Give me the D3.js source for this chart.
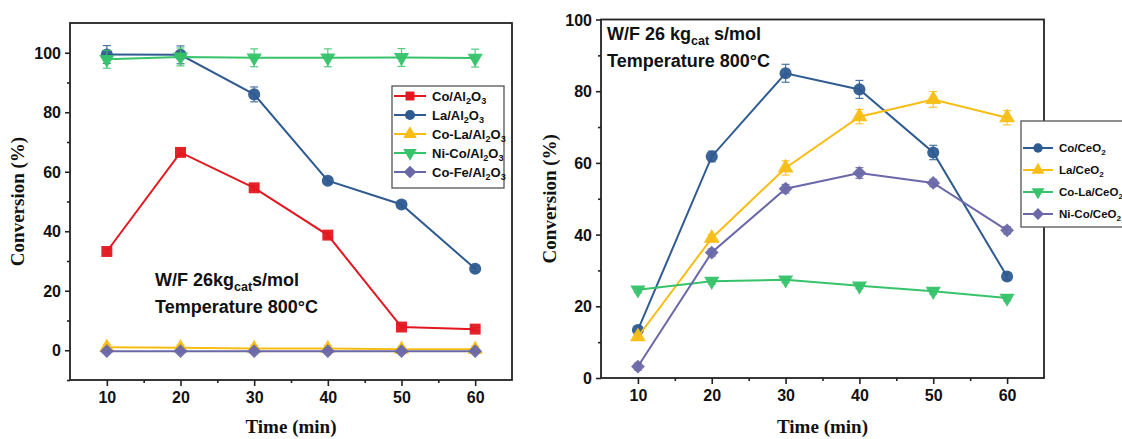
<!DOCTYPE html>
<html>
<head>
<meta charset="utf-8">
<script src="https://cdn.jsdelivr.net/npm/d3@7"></script>
<style>
  body { margin: 0; background: white; }
  svg { display: block; }
</style>
</head>
<body>
<svg id="chart" width="1122" height="439"></svg>
<script>
// time axis shared by both panels
var times = [10, 20, 30, 40, 50, 60];
var xTicks = [10, 20, 30, 40, 50, 60];
var xMinor = [15, 25, 35, 45, 55];

// left panel: Al2O3 supports
var alNames = ["Co/Al2O3", "La/Al2O3", "Co-La/Al2O3", "Ni-Co/Al2O3", "Co-Fe/Al2O3"];
var coAl   = [33.2, 66.5, 54.6, 38.7, 7.8, 7.1];
var laAl   = [99.4, 99.3, 86.0, 57.0, 49.0, 27.4];
var coLaAl = [1.0, 0.8, 0.6, 0.6, 0.3, 0.3];
var niCoAl = [97.8, 98.6, 98.3, 98.3, 98.4, 98.2];
var coFeAl = [-0.3, -0.3, -0.3, -0.3, -0.3, -0.3];
var coAlErr   = [0.8, 1.0, 0.8, 0.8, 0.6, 0.6];
var laAlErr   = [3.0, 3.0, 2.5, 1.0, 1.0, 1.0];
var coLaAlErr = [1.0, 1.0, 1.0, 1.0, 1.0, 1.0];
var niCoAlErr = [3.0, 3.0, 3.0, 3.0, 3.0, 3.0];
var coFeAlErr = [0.4, 0.4, 0.4, 0.4, 0.4, 0.4];
var alYTicks = [0, 20, 40, 60, 80, 100];
var alYMinor = [-10, 10, 30, 50, 70, 90];

// right panel: CeO2 supports
var ceNames = ["Co/CeO2", "La/CeO2", "Co-La/CeO2", "Ni-Co/CeO2"];
var coCe   = [13.4, 61.8, 85.0, 80.5, 62.9, 28.3];
var laCe   = [11.5, 39.0, 58.6, 72.9, 77.7, 72.6];
var coLaCe = [24.6, 27.0, 27.4, 25.7, 24.2, 22.3];
var niCoCe = [3.2, 35.0, 52.8, 57.2, 54.4, 41.2];
var coCeErr   = [1.0, 1.5, 2.5, 2.5, 2.0, 1.0];
var laCeErr   = [1.0, 1.0, 2.0, 2.0, 2.2, 2.0];
var coLaCeErr = [0.8, 0.8, 0.8, 0.8, 0.8, 0.8];
var niCoCeErr = [1.0, 1.0, 1.2, 1.5, 1.0, 1.0];
var ceYTicks = [0, 20, 40, 60, 80, 100];
var ceYMinor = [10, 30, 50, 70, 90];

var red = "#e3171f", blue = "#2f5b91", yellow = "#f8bd14", green = "#36c36a", purple = "#6a68a8";
var sans = "'Liberation Sans', Arial, sans-serif";
var serif = "'Liberation Serif', 'Times New Roman', serif";

var svg = d3.select("#chart");
svg.append("rect").attr("width", 1122).attr("height", 439).attr("fill", "white");

function symbolFor(kind, size) {
    if (kind == "square") return d3.symbol(d3.symbolSquare, size)();
    if (kind == "circle") return d3.symbol(d3.symbolCircle, size)();
    if (kind == "diamond") return d3.symbol(d3.symbolSquare, size)();
    return d3.symbol(d3.symbolTriangle, size)();
}
function symbolRot(kind) {
    if (kind == "down") return " rotate(180)";
    if (kind == "diamond") return " rotate(45)";
    return "";
}

// writes "Co/Al2O3" style labels with subscript digits
function chemText(sel, label, sub) {
    var parts = label.split(/(\d+)/);
    parts.forEach(function(p, i) {
        if (p === "") return;
        var isNum = /^\d+$/.test(p);
        var t = sel.append("tspan").text(p);
        if (isNum) t.attr("dy", sub.dy).style("font-size", sub.size + "px");
        else if (i > 0) t.attr("dy", -sub.dy);
    });
}

function drawPanel(p) {
    var x = d3.scaleLinear().domain([5, 65]).range([p.left, p.right]);
    var y = d3.scaleLinear().domain(p.yDomain).range([p.bottom, p.top]);
    var g = svg.append("g");

    // axes
    g.append("g").attr("transform", "translate(0," + p.bottom + ")")
        .call(d3.axisBottom(x).tickValues(xTicks).tickSize(6).tickPadding(6).tickFormat(d3.format("d")));
    g.append("g").attr("transform", "translate(0," + p.bottom + ")")
        .call(d3.axisBottom(x).tickValues(xMinor).tickSize(3).tickFormat(""));
    var ya = g.append("g").attr("transform", "translate(" + p.left + ",0)")
        .call(d3.axisLeft(y).tickValues(p.yTicks).tickSize(5).tickPadding(4).tickFormat(d3.format("d")));
    g.append("g").attr("transform", "translate(" + p.left + ",0)")
        .call(d3.axisLeft(y).tickValues(p.yMinor).tickSize(3).tickFormat(""));
    g.selectAll(".domain").remove();
    g.selectAll(".tick line").attr("stroke", "#222").attr("stroke-width", 1.6);
    g.selectAll(".tick text").attr("fill", "#111")
        .style("font-family", sans).style("font-weight", "bold").style("font-size", "16px");
    ya.selectAll(".tick text").attr("dy", "0.35em");

    g.append("rect")
        .attr("x", p.left).attr("y", p.top)
        .attr("width", p.right - p.left).attr("height", p.bottom - p.top)
        .attr("fill", "none").attr("stroke", "#222").attr("stroke-width", 1.8);

    // series
    p.series.forEach(function(s) {
        var pts = times.map(function(t, i) { return { t: t, v: s.values[i], e: s.err[i] }; });
        var sg = g.append("g");
        sg.append("path").datum(pts)
            .attr("fill", "none").attr("stroke", s.color).attr("stroke-width", 2)
            .attr("d", d3.line().x(function(d) { return x(d.t); }).y(function(d) { return y(d.v); }));
        var eb = sg.selectAll(".err").data(pts).enter().append("g")
            .attr("stroke", s.color).attr("stroke-width", 1.2).attr("opacity", 0.85);
        eb.append("line")
            .attr("x1", function(d) { return x(d.t); }).attr("x2", function(d) { return x(d.t); })
            .attr("y1", function(d) { return y(d.v - d.e); }).attr("y2", function(d) { return y(d.v + d.e); });
        eb.append("line")
            .attr("x1", function(d) { return x(d.t) - 4; }).attr("x2", function(d) { return x(d.t) + 4; })
            .attr("y1", function(d) { return y(d.v + d.e); }).attr("y2", function(d) { return y(d.v + d.e); });
        eb.append("line")
            .attr("x1", function(d) { return x(d.t) - 4; }).attr("x2", function(d) { return x(d.t) + 4; })
            .attr("y1", function(d) { return y(d.v - d.e); }).attr("y2", function(d) { return y(d.v - d.e); });
        sg.selectAll(".mk").data(pts).enter().append("path")
            .attr("d", symbolFor(s.shape, s.size))
            .attr("transform", function(d) { return "translate(" + x(d.t) + "," + y(d.v) + ")" + symbolRot(s.shape); })
            .attr("fill", s.color).attr("opacity", 0.95);
    });

    // legend
    var L = p.legend;
    g.append("rect").attr("x", L.x).attr("y", L.y).attr("width", L.w).attr("height", L.h)
        .attr("fill", "white").attr("stroke", "#555").attr("stroke-width", 1.3);
    p.series.forEach(function(s, i) {
        var ly = L.firstY + i * L.step;
        g.append("line").attr("x1", L.x + 2).attr("x2", L.x + 2 + L.lineW)
            .attr("y1", ly).attr("y2", ly).attr("stroke", s.color).attr("stroke-width", 2);
        g.append("path").attr("d", symbolFor(s.shape, L.mSize))
            .attr("transform", "translate(" + (L.x + 2 + L.lineW / 2) + "," + ly + ")" + symbolRot(s.shape))
            .attr("fill", s.color);
        var t = g.append("text").attr("x", L.x + L.lineW + 8).attr("y", ly + L.font * 0.35)
            .attr("fill", "#111").style("font-family", sans).style("font-weight", "bold")
            .style("font-size", L.font + "px");
        chemText(t, s.name, { dy: L.font * 0.3, size: L.font * 0.7 });
    });

    // axis titles
    g.append("text")
        .attr("transform", "translate(" + p.yTitleX + "," + ((p.top + p.bottom) / 2) + ") rotate(-90)")
        .attr("text-anchor", "middle").attr("fill", "#111")
        .style("font-family", serif).style("font-weight", "bold").style("font-size", "19px")
        .text("Conversion (%)");
    g.append("text")
        .attr("x", (p.left + p.right) / 2).attr("y", 433)
        .attr("text-anchor", "middle").attr("fill", "#111")
        .style("font-family", serif).style("font-weight", "bold").style("font-size", "19px")
        .text("Time (min)");

    // conditions note
    var n1 = g.append("text").attr("x", p.note.x).attr("y", p.note.y)
        .attr("fill", "#111").style("font-family", sans).style("font-weight", "bold").style("font-size", "18px");
    n1.append("tspan").text(p.note.pre);
    n1.append("tspan").text("cat").attr("dy", 5).style("font-size", "12.5px");
    n1.append("tspan").text(p.note.post).attr("dy", -5);
    g.append("text").attr("x", p.note.x).attr("y", p.note.y + 27)
        .attr("fill", "#111").style("font-family", sans).style("font-weight", "bold").style("font-size", "18px")
        .text("Temperature 800\u00B0C");
}

drawPanel({
    left: 70, right: 512, top: 23, bottom: 380, yDomain: [-10, 110],
    yTicks: alYTicks, yMinor: alYMinor, yTitleX: 24,
    series: [
        { name: alNames[0], values: coAl, err: coAlErr, color: red, shape: "square", size: 120 },
        { name: alNames[1], values: laAl, err: laAlErr, color: blue, shape: "circle", size: 115 },
        { name: alNames[2], values: coLaAl, err: coLaAlErr, color: yellow, shape: "up", size: 100 },
        { name: alNames[3], values: niCoAl, err: niCoAlErr, color: green, shape: "down", size: 100 },
        { name: alNames[4], values: coFeAl, err: coFeAlErr, color: purple, shape: "diamond", size: 95 }
    ],
    legend: { x: 392, y: 86, w: 112, h: 102, firstY: 96, step: 19, lineW: 32, mSize: 80, font: 13 },
    note: { x: 155, y: 286, pre: "W/F 26kg", post: "s/mol" }
});

drawPanel({
    left: 601, right: 1044, top: 19.5, bottom: 378, yDomain: [0, 100],
    yTicks: ceYTicks, yMinor: ceYMinor, yTitleX: 556,
    series: [
        { name: ceNames[0], values: coCe, err: coCeErr, color: blue, shape: "circle", size: 115 },
        { name: ceNames[1], values: laCe, err: laCeErr, color: yellow, shape: "up", size: 110 },
        { name: ceNames[2], values: coLaCe, err: coLaCeErr, color: green, shape: "down", size: 100 },
        { name: ceNames[3], values: niCoCe, err: niCoCeErr, color: purple, shape: "diamond", size: 95 }
    ],
    legend: { x: 1021, y: 121, w: 120, h: 106, firstY: 148, step: 22, lineW: 30, mSize: 70, font: 11.5 },
    note: { x: 607, y: 40, pre: "W/F 26 kg", post: " s/mol" }
});
</script>
</body>
</html>
